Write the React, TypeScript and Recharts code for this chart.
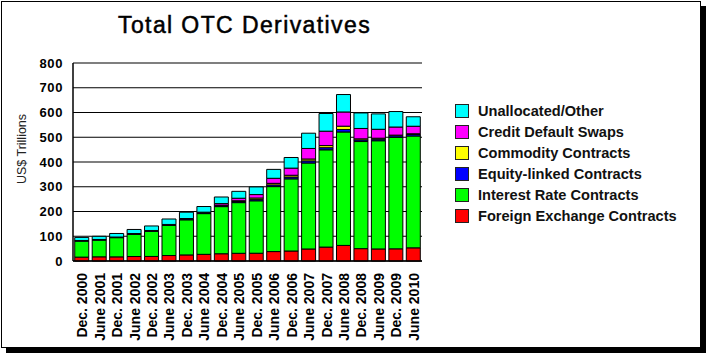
import { BarChart, Bar, XAxis, YAxis, CartesianGrid, Legend } from "recharts";

const FONT = "Arial, 'Liberation Sans', sans-serif";

const periods = [
  "Dec. 2000", "June 2001", "Dec. 2001", "June 2002", "Dec. 2002",
  "June 2003", "Dec. 2003", "June 2004", "Dec. 2004", "June 2005",
  "Dec. 2005", "June 2006", "Dec. 2006", "June 2007", "Dec. 2007",
  "June 2008", "Dec. 2008", "June 2009", "Dec. 2009", "June 2010",
];

// US$ trillions
const foreignExchange = [15.7, 16.9, 16.7, 18.1, 18.4, 22.1, 24.5, 26.9, 29.3, 31.1, 31.4, 38.1, 40.3, 48.6, 56.2, 63.0, 50.0, 48.7, 49.2, 53.2];
const interestRate = [64.7, 67.5, 77.6, 89.9, 101.7, 121.8, 141.9, 164.6, 190.5, 204.8, 211.9, 262.5, 291.6, 347.3, 393.1, 458.3, 432.7, 437.2, 449.9, 451.8];
const equityLinked = [1.9, 2.0, 1.9, 2.2, 2.3, 2.8, 3.8, 4.5, 4.4, 4.6, 5.8, 6.8, 7.5, 8.6, 8.5, 10.2, 6.5, 6.6, 6.6, 6.3];
const commodity = [0.7, 0.6, 0.6, 0.8, 0.9, 1.0, 1.4, 1.3, 1.4, 2.9, 5.4, 6.4, 7.1, 7.6, 8.5, 13.2, 4.4, 3.7, 2.9, 2.9];
const creditDefault = [0, 0, 0, 0, 0, 0, 0, 0, 6.4, 10.2, 13.9, 20.4, 28.7, 42.6, 58.2, 57.4, 41.9, 36.0, 32.7, 30.3];
const unallocated = [12.3, 12.8, 14.4, 16.4, 18.3, 22.0, 25.5, 22.8, 26.6, 27.9, 30.9, 36.0, 43.0, 61.7, 71.5, 70.5, 62.7, 62.3, 62.6, 38.3];

const yTicks = [0, 100, 200, 300, 400, 500, 600, 700, 800];

const SERIES = [
  { key: "fx", name: "Foreign Exchange Contracts", color: "#ff0000" },
  { key: "ir", name: "Interest Rate Contracts", color: "#00ff00" },
  { key: "eq", name: "Equity-linked Contracts", color: "#0000ff" },
  { key: "cm", name: "Commodity Contracts", color: "#ffff00" },
  { key: "cds", name: "Credit Default Swaps", color: "#ff00ff" },
  { key: "oth", name: "Unallocated/Other", color: "#00ffff" },
];

const data = periods.map((p, i) => ({
  period: p,
  fx: foreignExchange[i],
  ir: interestRate[i],
  eq: equityLinked[i],
  cm: commodity[i],
  cds: creditDefault[i],
  oth: unallocated[i],
}));

const YTick = ({ x, y, payload }: any) => (
  <text x={x - 10} y={y} dy="0.35em" textAnchor="end" fontFamily={FONT} fontSize={13} fontWeight="bold" fill="#000" letterSpacing={0.6}>
    {payload.value}
  </text>
);

const XTick = ({ x, y, payload }: any) => {
  const tx = x + 5.5;
  const ty = y + 12;
  return (
    <text x={tx} y={ty} transform={`rotate(-90, ${tx}, ${ty})`} textAnchor="end" fontFamily={FONT} fontSize={14} fontWeight="bold" fill="#000">
      {payload.value}
    </text>
  );
};

const renderLegend = () => (
  <div style={{ fontFamily: FONT }}>
    {[...SERIES].reverse().map((s) => (
      <div key={s.key} style={{ display: "flex", alignItems: "center", height: 21 }}>
        <div style={{ width: 12, height: 12, background: s.color, border: "1px solid #222", marginRight: 9 }} />
        <span style={{ fontSize: 14.6, fontWeight: "bold", color: "#111", whiteSpace: "nowrap" }}>{s.name}</span>
      </div>
    ))}
  </div>
);

export default function App() {
  return (
    <div style={{ position: "absolute", left: 0, top: 0, width: 706, height: 354, background: "#fff" }}>
      <div
        style={{
          position: "absolute",
          left: 1,
          top: 1,
          width: 698,
          height: 345,
          border: "1px solid #000",
          boxShadow: "5px 5px 0 #000",
        }}
      />
      <div
        style={{
          position: "absolute",
          left: 118,
          top: 14,
          fontFamily: FONT,
          fontSize: 23,
          lineHeight: "23px",
          letterSpacing: 1.4,
          color: "#000",
          WebkitTextStroke: "0.5px #000",
          whiteSpace: "nowrap",
        }}
      >
        Total OTC Derivatives
      </div>
      <div
        style={{
          position: "absolute",
          left: 22,
          top: 149,
          transform: "translate(-50%, -50%) rotate(-90deg)",
          fontFamily: FONT,
          fontSize: 12.5,
          color: "#222",
          whiteSpace: "nowrap",
        }}
      >
        US$ Trillions
      </div>
      <div style={{ position: "absolute", left: 0, top: 0 }}>
        <BarChart width={706} height={354} data={data} margin={{ top: 63, right: 284, bottom: 0, left: 0 }} barCategoryGap="10%">
          <CartesianGrid horizontal vertical={false} stroke="#000" strokeWidth={1.2} />
          <XAxis
            dataKey="period"
            interval={0}
            height={93}
            tickLine={false}
            tickSize={0}
            tickMargin={0}
            axisLine={{ stroke: "#000", strokeWidth: 1.5 }}
            tick={<XTick />}
          />
          <YAxis
            domain={[0, 800]}
            ticks={yTicks}
            width={73}
            tickLine={false}
            tickSize={0}
            tickMargin={0}
            axisLine={{ stroke: "#000", strokeWidth: 1.5 }}
            tick={<YTick />}
          />
          <YAxis yAxisId="r" orientation="right" domain={[0, 800]} width={0} tick={false} tickLine={false} axisLine={{ stroke: "#000", strokeWidth: 1.5 }} />
          <Legend
            layout="vertical"
            align="center"
            verticalAlign="middle"
            content={renderLegend}
            wrapperStyle={{ left: 455, top: 100, width: 240 }}
          />
          {SERIES.map((s) => (
            <Bar key={s.key} dataKey={s.key} name={s.name} stackId="a" fill={s.color} stroke="#000" strokeWidth={1} isAnimationActive={false} />
          ))}
        </BarChart>
      </div>
    </div>
  );
}
